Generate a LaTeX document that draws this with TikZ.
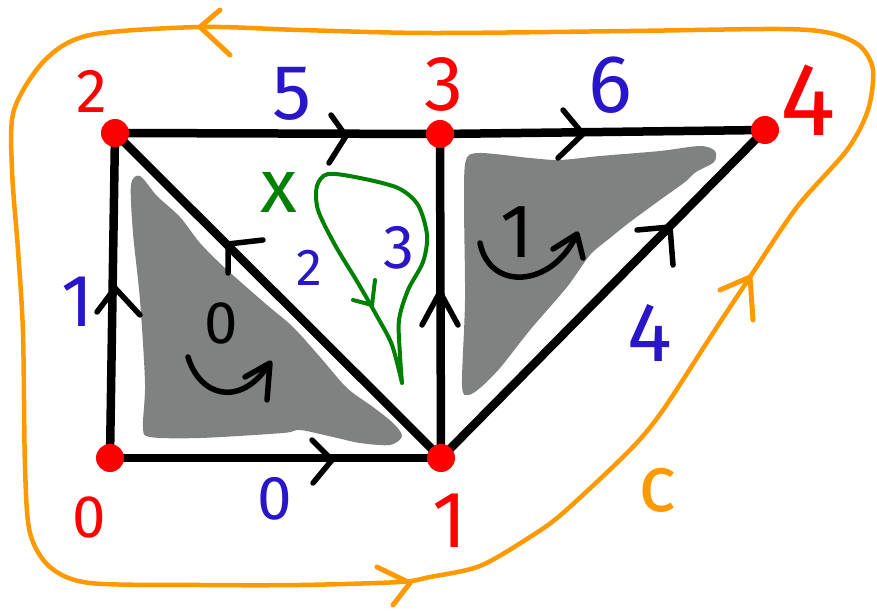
\documentclass[tikz,border=0pt]{standalone}
\usepackage{fontspec}
\setmainfont{Fira Sans}
\usetikzlibrary{backgrounds}
\definecolor{hred}{RGB}{255,0,0}
\definecolor{hblue}{RGB}{40,22,200}
\definecolor{horange}{RGB}{255,153,0}
\definecolor{hgreen}{RGB}{0,128,0}
\definecolor{hgray}{RGB}{128,130,130}
\tikzset{
  vdot/.style={circle,fill=hred,minimum size=28pt,inner sep=0},
  edge/.style={line width=8.5pt,line cap=round},
  chev/.style={line width=5.5pt,line cap=round,line join=round},
  ochev/.style={draw=horange,line width=5pt,line cap=round,line join=round},
  lbl/.style={inner sep=0},
  fsz/.style={font=\fontsize{#1pt}{#1pt}\selectfont}
}
\begin{document}
\begin{tikzpicture}[x=1pt,y=-1pt]
\useasboundingbox (0,0) rectangle (877,612);

% vertices
\node[vdot] (v0) at (110,458) {};
\node[vdot] (v1) at (441,458) {};
\node[vdot] (v2) at (115,133) {};
\node[vdot] (v3) at (440,134) {};
\node[vdot] (v4) at (765,130) {};

\begin{scope}[on background layer]
\fill[white] (0,0) rectangle (877,612);
% gray faces
\fill[hgray] plot[smooth cycle] coordinates {(131,185) (140,176) (157,196) (180,217) (200,243) (225,268) (267,305) (293,327) (320,357) (347,388) (373,407) (393,423) (402,436) (390,445) (360,443) (333,437) (300,430) (283,433) (200,438) (150,437) (143,427) (145,383) (140,300) (133,233)};
\fill[hgray] plot[smooth cycle] coordinates {(466,160) (480,153) (530,158) (560,160) (600,156) (660,151) (700,146) (715,151) (714,162) (696,172) (685,182) (660,200) (630,222) (610,238) (590,255) (567,287) (530,330) (500,368) (480,388) (468,395) (462,385) (465,300) (464,200)};
% edges
\draw[edge] (v2.center) -- (v3.center);
\draw[edge] (v3.center) -- (v4.center);
\draw[edge] (v0.center) -- (v1.center);
\draw[edge] (v0.center) -- (v2.center);
\draw[edge] (v2.center) -- (v1.center);
\draw[edge] (v3.center) -- (v1.center);
\draw[edge] (v1.center) -- (v4.center);
\end{scope}

% edge arrows
\draw[chev] (331,115) -- (346,136) -- (329,163);
\draw[chev] (563,110) -- (583,134) -- (558,158);
\draw[chev] (312,440) -- (332,460) -- (313,483);
\draw[chev] (97,312) -- (115,288) -- (140,315);
\draw[chev] (263,240) -- (228,244) -- (228,273);
\draw[chev] (422,325) -- (440,292) -- (458,325);
\draw[chev] (637,230) -- (670,227) -- (673,265);

% face orientation arrows
\draw[chev] (188,357) .. controls (200,397) and (240,407) .. (268,366);
\draw[chev] (245,377) -- (270,363) -- (267,400);
\draw[chev] (480,243) .. controls (490,292) and (552,287) .. (576,236);
\draw[chev] (553,249) -- (577,234) -- (583,258);

% green loop
\draw[hgreen,line width=4pt,line cap=round,line join=round] plot[smooth] coordinates {(402,383) (392,345) (378,318) (358,283) (335,245) (318,210) (317,186) (328,174) (360,178) (398,188) (418,205) (427,235) (423,262) (408,290) (399,320) (400,355) (402,383)};
\draw[hgreen,line width=4pt,line cap=round,line join=round] (353,300) -- (372,305) -- (375,280);

% orange loop
\draw[horange,line width=4.5pt,line cap=round,line join=round] plot[smooth cycle] coordinates {(200,27) (300,30) (430,33) (630,31) (780,29) (830,33) (860,46) (873,70) (868,110) (847,150) (797,207) (750,277) (713,333) (663,410) (630,450) (563,513) (530,537) (480,566) (430,577) (400,582) (300,585) (200,585) (90,583) (50,567) (30,533) (25,467) (23,333) (18,250) (12,170) (14,110) (45,60) (90,35)};
\draw[ochev] (220,10) -- (200,27) -- (230,55);
\draw[ochev] (720,290) -- (750,277) -- (753,320);
\draw[ochev] (377,567) -- (410,583) -- (393,605);

% vertex labels
\node[lbl,fsz=62,text=hred] (l2) at (92,91) {2};
\node[lbl,fsz=78,text=hred] (l3) at (444,84) {3};
\node[lbl,fsz=104,text=hred] (l4) at (808,100) {4};
\node[lbl,fsz=60,text=hred] (l0) at (89,517) {0};
\node[lbl,fsz=80,text=hred] (l1) at (450,521) {1};

% edge labels
\node[lbl,fsz=78,text=hblue] (e5) at (292,94) {5};
\node[lbl,fsz=82,text=hblue] (e6) at (610,85) {6};
\node[lbl,fsz=74,text=hblue] (e1) at (78,302) {1};
\node[lbl,fsz=52,text=hblue] (e2) at (309,268) {2};
\node[lbl,fsz=62,text=hblue] (e3) at (399,248) {3};
\node[lbl,fsz=84,text=hblue] (e4) at (650,333) {4};
\node[lbl,fsz=62,text=hblue] (e0) at (275,499) {0};

% face labels
\node[lbl,fsz=60] (f0) at (221,323) {0};
\node[lbl,fsz=76] (f1) at (517,232) {1};

% others
\node[lbl,fsz=80,text=horange] (c) at (658,490) {c};
\node[lbl,fsz=76,text=hgreen] (x) at (279,192) {x};
\end{tikzpicture}
\end{document}
